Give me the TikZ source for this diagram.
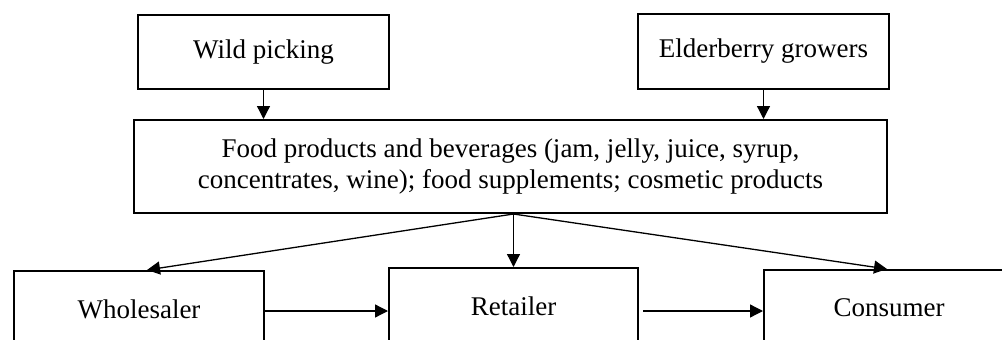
\documentclass[tikz,border=0pt]{standalone}
\usepackage{fontspec}
\setmainfont{Liberation Serif}
\usetikzlibrary{arrows.meta,calc}
\begin{document}
\begin{tikzpicture}[x=1pt,y=-1pt,
  box/.style={draw, line width=2pt, inner sep=0pt, align=center, font=\fontsize{27}{31}\selectfont},
  conn/.style={line width=1.3pt, -{Triangle[length=13pt,width=13pt]}}]
\useasboundingbox (0,0) rectangle (1002,340);
\clip (0,0) rectangle (1002,340);
\node[box, minimum width=251pt, minimum height=74pt] (wild) at (263.5,52) {Wild picking};
\node[box, minimum width=251pt, minimum height=75pt] (elder) at (763.5,51.5) {Elderberry growers};
\node[box, minimum width=753pt, minimum height=93pt] (food) at (510.5,166.5)
  {Food products and beverages (jam, jelly, juice, syrup,\\concentrates, wine); food supplements; cosmetic products};
\node[box, minimum width=250pt, minimum height=76pt] (whole) at (139,309) {Wholesaler};
\node[box, minimum width=249pt, minimum height=76pt] (retail) at (513.5,306) {Retailer};
\node[box, minimum width=250pt, minimum height=76pt] (cons) at (889,308) {Consumer};
\draw[conn] (wild.south) -- (wild.south |- food.north);
\draw[conn] (elder.south) -- (elder.south |- food.north);
\coordinate (fs) at (food.south -| retail.north);
\draw[conn] (fs) -- (retail.north);
\draw[conn] (fs) -- ($(whole.north)+(8,0)$);
\draw[conn] (fs) -- ($(cons.north)+(-2,0)$);
\draw[conn] ($(whole.east)+(0,2)$) -- ($(whole.east -| retail.west)+(0,2)$);
\draw[conn, shorten <=4pt] ($(retail.east |- whole.east)+(0,2)$) -- ($(cons.west |- whole.east)+(0,2)$);
\end{tikzpicture}
\end{document}
